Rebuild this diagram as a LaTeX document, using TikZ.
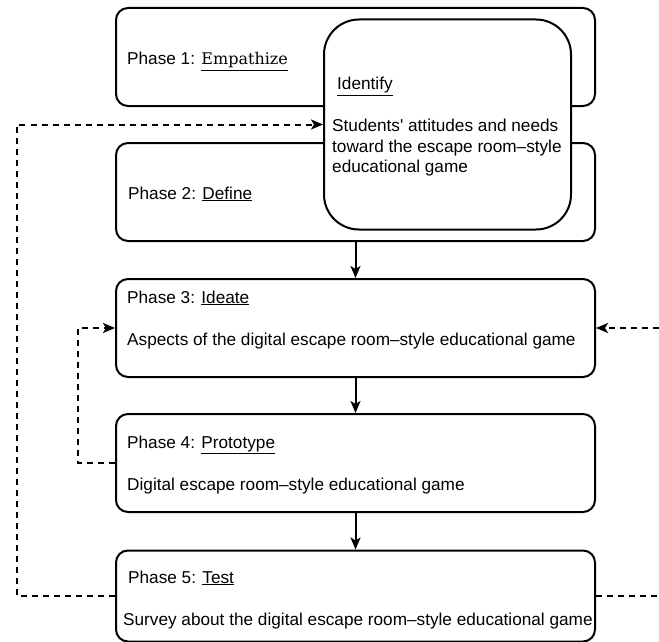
\documentclass[tikz,border=0pt]{standalone}
\usepackage{fontspec}
\setmainfont{Liberation Sans}[Ligatures=TeXOff]
\newfontfamily\slabfont{DejaVu Serif}
\usetikzlibrary{arrows.meta}
\begin{document}
\begin{tikzpicture}[x=1pt,y=-1pt,
  phase/.style={draw, line width=2pt, rounded corners=12pt, minimum width=479pt, inner sep=0pt, fill=white},
  ident/.style={draw, line width=2pt, rounded corners=35pt, minimum width=247pt, minimum height=210pt, inner sep=0pt, fill=white},
  txt/.style={anchor=base west, inner sep=0pt, font=\fontsize{17.2}{20.5}\selectfont},
  tip/.style={-{Stealth[length=12pt,width=10pt,inset=3pt]}},
  flow/.style={line width=2pt, tip},
  dashline/.style={line width=2pt, dash pattern=on 6pt off 5pt},
  loop/.style={dashline, tip},
]
\useasboundingbox (0,0) rectangle (659,642);
\node[phase, minimum height=98pt] (p1) at (355.5,57) {};
\node[phase, minimum height=98pt] (p2) at (355.5,192) {};
\node[phase, minimum height=98pt] (p3) at (355.5,328) {};
\node[phase, minimum height=98pt] (p4) at (355.5,463) {};
\node[phase, minimum height=91pt] (p5) at (355.5,596) {};
\node[ident] (ident) at (447.5,124.5) {};

\node[txt] (t1) at (127,65) {Phase 1: \underline{{\slabfont\fontsize{16}{18}\selectfont Empathize}}};
\node[txt] (t2) at (128,199) {Phase 2: \underline{Define}};
\node[txt] (t3) at (127,303) {Phase 3: \underline{Ideate}};
\node[txt] (t3b) at (127,345) {Aspects of the digital escape room–style educational game};
\node[txt] (t4) at (127,448) {Phase 4: \underline{Prototype}};
\node[txt] (t4b) at (127,490) {Digital escape room–style educational game};
\node[txt] (t5) at (128,583) {Phase 5: \underline{Test}};
\node[txt] (t5b) at (123,625) {Survey about the digital escape room–style educational game};
\node[txt] (ti) at (337,90) {\underline{Identify}};
\node[txt] (s1) at (332,131) {Students' attitudes and needs};
\node[txt] (s2) at (332,152) {toward the escape room–style};
\node[txt] (s3) at (332,172) {educational game};

\coordinate (lx) at (17,0);
\coordinate (lx2) at (78,0);
\coordinate (rx) at (659,0);

\draw[flow] (p2.south) -- (p3.north);
\draw[flow] (p3.south) -- (p4.north);
\draw[flow] (p4.south) -- (p5.north);

\draw[loop] (p5.west) -- (p5.west -| lx) |- (ident.west);
\draw[loop] (p4.west) -- (p4.west -| lx2) |- (p3.west);
\draw[loop] (p3.east -| rx) -- (p3.east);
\draw[dashline] (p5.east) -- (p5.east -| rx);
\end{tikzpicture}
\end{document}
